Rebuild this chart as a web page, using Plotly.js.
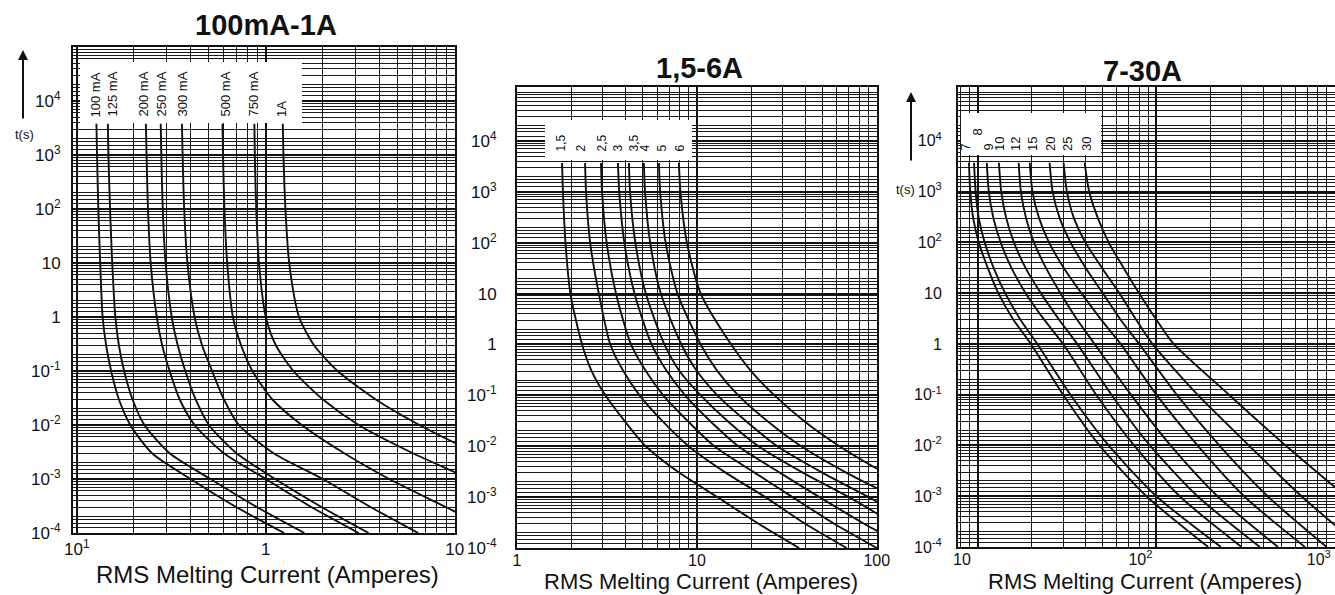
<!DOCTYPE html>
<html><head><meta charset="utf-8">
<script src="https://cdn.plot.ly/plotly-3.0.1.min.js"></script>
<style>html,body{margin:0;padding:0;background:#fff;} #chart{width:1335px;height:595px;}</style>
</head><body><div id="chart"></div>
<script>
// ---------- Panel 1: 100mA-1A ----------
const p1Times = [3800, 1000, 100, 10, 1, 0.3, 0.1, 0.03, 0.01, 0.003, 0.001, 0.0003, 0.0001];
const p1Labels = ['100 mA', '125 mA', '200 mA', '250 mA', '300 mA', '500 mA', '750 mA', '1A'];
const p1_100mA = [0.127,0.128,0.130,0.133,0.137,0.143,0.152,0.167,0.192,0.25,0.40,0.70,1.25];
const p1_125mA = [0.146,0.147,0.150,0.154,0.160,0.167,0.178,0.197,0.228,0.31,0.51,0.90,1.60];
const p1_200mA = [0.232,0.234,0.238,0.246,0.265,0.283,0.31,0.35,0.42,0.60,1.00,1.75,3.10];
const p1_250mA = [0.278,0.280,0.285,0.295,0.318,0.342,0.375,0.425,0.50,0.70,1.12,1.98,3.50];
const p1_300mA = [0.360,0.363,0.370,0.385,0.420,0.46,0.52,0.60,0.72,1.10,2.00,3.60,6.40];
const p1_500mA = [0.590,0.594,0.604,0.625,0.670,0.74,0.85,1.08,1.55,2.60,4.50,9.0,17.0];
const p1_750mA = [0.870,0.875,0.890,0.920,1.00,1.13,1.40,2.00,3.10,6.0,12.0,24,45];
const p1_1A    = [1.23,1.24,1.27,1.33,1.50,1.80,2.40,3.80,6.50,13,26,50,95];
const p1Series = [p1_100mA, p1_125mA, p1_200mA, p1_250mA, p1_300mA, p1_500mA, p1_750mA, p1_1A];
const p1XTicks = [0.1, 1, 10];
const p1XText = ['10<sup>1</sup>', '1', '10'];

// ---------- Panel 2: 1,5-6A ----------
const p2Times = [3700, 1000, 100, 10, 1, 0.3, 0.1, 0.03, 0.01, 0.003, 0.001, 0.0003, 0.0001];
const p2Labels = ['1,5', '2', '2,5', '3', '3,5', '4', '5', '6'];
const p2_1_5A = [1.78,1.80,1.86,1.98,2.30,2.60,3.10,4.00,5.20,8.0,13,22,37];
const p2_2A   = [2.39,2.42,2.55,2.85,3.30,3.90,4.80,6.50,9.0,14.5,24,40,68];
const p2_2_5A = [2.93,2.97,3.15,3.55,4.30,5.20,6.50,9.0,12.5,21,34,58,100];
const p2_3A   = [3.64,3.70,3.95,4.50,5.60,6.80,8.60,12.0,17,29,48,85,150];
const p2_3_5A = [4.19,4.25,4.55,5.20,6.60,8.0,10.5,15,22,39,70,125,220];
const p2_4A   = [5.07,5.15,5.50,6.30,8.20,10,13,19,28,50,90,165,290];
const p2_5A   = [6.15,6.25,6.70,7.80,10.5,13,17,25,38,68,125,230,400];
const p2_6A   = [7.94,8.10,8.80,10.5,15.5,20,27,40,62,110,200,360,650];
const p2Series = [p2_1_5A, p2_2A, p2_2_5A, p2_3A, p2_3_5A, p2_4A, p2_5A, p2_6A];
const p2XTicks = [1, 10, 100];
const p2XText = ['1', '10', '100'];

// ---------- Panel 3: 7-30A ----------
const p3Times = [3700, 1000, 300, 100, 30, 10, 3, 1, 0.1, 0.01, 0.001, 0.0001];
const p3Labels = ['7', '8', '9', '10', '12', '15', '20', '25', '30'];
const p3_7A  = [8.9,9.05,9.4,10.1,11.4,13.0,15.8,19.8,30,48,88,195];
const p3_8A  = [9.5,9.7,10.1,10.9,12.3,14.2,17.3,21.5,33,54,100,230];
const p3_9A  = [11.2,11.5,12.2,13.4,15.5,18.5,23.5,30,46,75,135,300];
const p3_10A = [13.1,13.5,14.4,15.9,18.6,22.5,28.5,36,56,92,170,380];
const p3_12A = [16.9,17.4,18.6,20.6,24.2,29,36,45,72,120,220,480];
const p3_15A = [19.5,20.2,22,25,30.5,38,49,63,100,170,310,680];
const p3_20A = [25.2,26.2,28.7,33,40.5,50,63,80,130,225,420,900];
const p3_25A = [30.2,31.5,34.5,40,50,62,77,95,170,330,650,1400];
const p3_30A = [39.6,42,47,54,66,80,100,125,255,530,1150,2500];
const p3Series = [p3_7A, p3_8A, p3_9A, p3_10A, p3_12A, p3_15A, p3_20A, p3_25A, p3_30A];
const p3XTicks = [10, 100, 1000];
const p3XText = ['10', '10<sup>2</sup>', '10<sup>3</sup>'];

// shared y ticks
const yTicks = [1e-4, 1e-3, 1e-2, 1e-1, 1, 10, 100, 1000, 10000];
const yText = ['10<sup>-4</sup>', '10<sup>-3</sup>', '10<sup>-2</sup>', '10<sup>-1</sup>', '1', '10', '10<sup>2</sup>', '10<sup>3</sup>', '10<sup>4</sup>'];
const panelTitles = ['100mA-1A', '1,5-6A', '7-30A'];
const xTitle = 'RMS Melting Current (Amperes)';

// ---------- build ----------
const W = 1335, H = 595;
const INK = '#111';
const FAMILY = 'Liberation Sans, Arial, sans-serif';
function px2fx(px){ return px / W; }
function py2fy(py){ return (H - py) / H; }

function minorVals(e0, e1, mults){
  const out = [];
  for (let e = e0; e <= e1; e++) for (const m of mults) out.push(m * Math.pow(10, e));
  return out;
}
const yMinor = minorVals(-5, 5, [1.25, 1.5, 1.75, 2, 3, 4, 5, 6, 7, 8, 9]);
const xMinor = minorVals(-2, 3, [2, 3, 4, 5, 6, 7, 8, 9]);

const traces = [];
function addPanel(series, times, xa, ya){
  series.forEach(cur => {
    traces.push({
      type: 'scatter', mode: 'lines', x: cur, y: times,
      xaxis: xa, yaxis: ya, hoverinfo: 'skip', showlegend: false,
      line: {color: INK, width: 1.9, shape: 'spline', smoothing: 0.7}
    });
  });
}
addPanel(p1Series, p1Times, 'x', 'y');
addPanel(p2Series, p2Times, 'x2', 'y2');
addPanel(p3Series, p3Times, 'x3', 'y3');

function axis(domain, range, tv, tt, standoff, minor, extra){
  return Object.assign({
    type: 'log', domain: domain, range: range, autorange: false,
    tickmode: 'array', tickvals: tv, ticktext: tt,
    showgrid: true, gridcolor: INK, gridwidth: 2,
    showline: true, linecolor: INK, linewidth: 2, mirror: true,
    ticks: '', zeroline: false, fixedrange: true, automargin: false,
    ticklabeloverflow: 'allow',
    tickfont: {size: 17, color: INK, family: FAMILY},
    ticklabelstandoff: standoff,
    minor: {tickmode: 'array', tickvals: minor, showgrid: true, gridcolor: '#1a1a1a', gridwidth: 1}
  }, extra || {});
}

// pixel frames of the three plot areas
const f1 = {l: 73, r: 455, t: 47, b: 533};
const f2 = {l: 517, r: 877, t: 87, b: 548};
const f3 = {l: 958, r: 1335, t: 87, b: 547};
function dx(f){ return [px2fx(f.l), px2fx(f.r)]; }
function dy(f){ return [py2fy(f.b), py2fy(f.t)]; }

const smallTick = {size: 16, color: INK, family: FAMILY};
const layout = {
  width: W, height: H, margin: {l: 0, r: 0, t: 0, b: 0},
  paper_bgcolor: '#fff', plot_bgcolor: '#fff', showlegend: false,
  font: {family: FAMILY, color: INK},
  xaxis: axis(dx(f1), [-1.02, 1.001], p1XTicks, p1XText, 0, xMinor, {anchor: 'y'}),
  yaxis: axis(dy(f1), [-4, 5.0], yTicks, yText, 7, yMinor, {anchor: 'x'}),
  xaxis2: axis(dx(f2), [0, 2.001], p2XTicks, p2XText, -3, xMinor, {anchor: 'y2', tickfont: smallTick}),
  yaxis2: axis(dy(f2), [-4, 5.06], yTicks, yText, 15, yMinor, {anchor: 'x2'}),
  xaxis3: axis(dx(f3), [0.888, 3.001], p3XTicks, p3XText, -3, xMinor, {anchor: 'y3', ticklabelshift: -16, tickfont: smallTick}),
  yaxis3: axis(dy(f3), [-4, 5.06], yTicks, yText, 11, yMinor, {anchor: 'x3', tickfont: smallTick}),
  shapes: [],
  annotations: []
};

// white label boxes inside each plot (domain fractions)
function box(xa, ya, f, l, r, t, b){
  layout.shapes.push({type: 'rect', xref: xa + ' domain', yref: ya + ' domain', layer: 'above',
    x0: (l - f.l) / (f.r - f.l), x1: (r - f.l) / (f.r - f.l),
    y0: (f.b - b) / (f.b - f.t), y1: (f.b - t) / (f.b - f.t),
    fillcolor: '#fff', line: {width: 0}});
}
box('x', 'y', f1, 80, 302, 62, 123);
box('x2', 'y2', f2, 545, 692, 120, 160);
box('x3', 'y3', f3, 961, 1101, 113, 155);

// panel titles
const titlePos = [[266, 25], [700, 68], [1142, 71]];
panelTitles.forEach((t, i) => layout.annotations.push({
  text: '<b>' + t + '</b>', xref: 'paper', yref: 'paper', x: px2fx(titlePos[i][0]), y: py2fy(titlePos[i][1]),
  xanchor: 'center', yanchor: 'middle', showarrow: false,
  font: {size: 29, color: INK, family: FAMILY}
}));

// x axis titles (bottom-anchored for panels 2 and 3 so they stay on the page)
layout.annotations.push({text: xTitle, xref: 'paper', yref: 'paper', x: px2fx(267), y: py2fy(574),
  xanchor: 'center', yanchor: 'middle', showarrow: false, font: {size: 24, color: INK, family: FAMILY}});
[701, 1145].forEach(xp => layout.annotations.push({text: xTitle, xref: 'paper', yref: 'paper',
  x: px2fx(xp), y: 0, xanchor: 'center', yanchor: 'bottom', showarrow: false, borderpad: 0,
  font: {size: 22, color: INK, family: FAMILY}}));

// rotated curve labels
function labels(list, xs, bottoms, size){
  list.forEach((t, i) => layout.annotations.push({
    text: t, textangle: -90, xref: 'paper', yref: 'paper',
    x: px2fx(xs[i]), y: py2fy(Array.isArray(bottoms) ? bottoms[i] : bottoms),
    xanchor: 'center', yanchor: 'bottom', showarrow: false,
    font: {size: size, color: INK, family: FAMILY}
  }));
}
labels(p1Labels, [95, 112, 143, 161, 182, 225, 253, 282], 119, 13);
labels(p2Labels, [561, 581, 602, 618, 634, 645, 662, 680], 154, 12);
labels(p3Labels, [965, 977, 988, 1000, 1016, 1033, 1051, 1068, 1087], [153, 138, 153, 153, 153, 153, 153, 153, 153], 13);

// t(s) arrows
function tLabel(xArrow, yHead, len, xText, yText){
  layout.annotations.push({text: '', xref: 'paper', yref: 'paper', x: px2fx(xArrow), y: py2fy(yHead),
    showarrow: true, ax: 0, ay: len, arrowhead: 2, arrowsize: 1, arrowwidth: 2, arrowcolor: INK});
  layout.annotations.push({text: 't(s)', xref: 'paper', yref: 'paper', x: px2fx(xText), y: py2fy(yText),
    xanchor: 'center', yanchor: 'middle', showarrow: false,
    font: {size: 13, color: INK, family: FAMILY}});
}
tLabel(23, 50, 70, 24, 135);
tLabel(911, 92, 70, 906, 190);

Plotly.newPlot('chart', traces, layout, {staticPlot: true, displayModeBar: false});
</script>
</body></html>
